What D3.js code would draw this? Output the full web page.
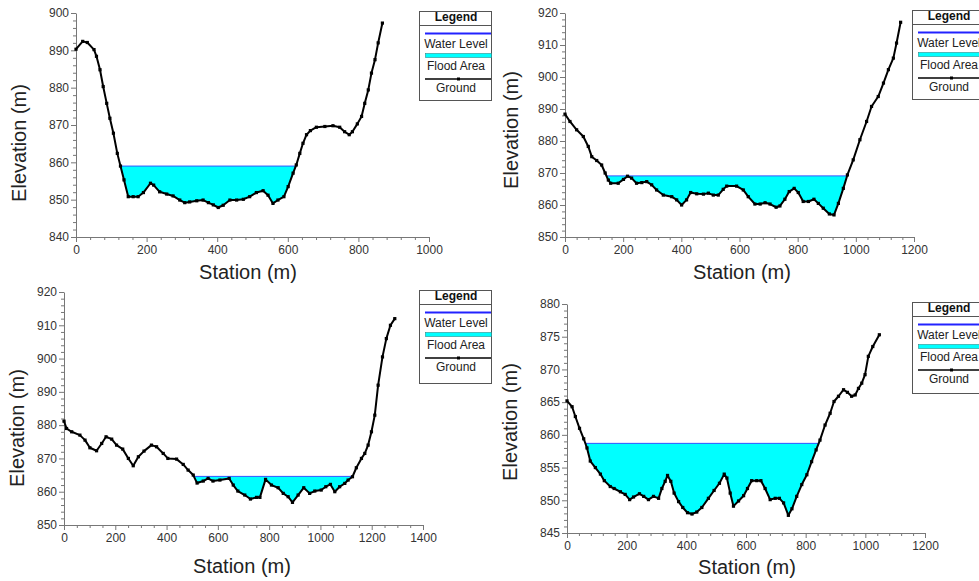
<!DOCTYPE html>
<html><head><meta charset="utf-8">
<script src="https://cdn.jsdelivr.net/npm/d3@7"></script>
<style>
body{margin:0;background:#fff}
svg{display:block}
text{font-family:"Liberation Sans",Arial,sans-serif}
</style>
</head><body>
<svg id="c" width="979" height="581"></svg>
<script>
// ---------- DATA ----------
const station1 = [0,19,32,51,58,68,77,87,96,106,117,126,136,148,162,176,191,211,220,237,257,275,294,308,322,342,360,375,389,403,417,436,455,474,492,511,530,544,558,572,589,601,615,624,634,643,653,664,681,705,728,747,761,774,783,797,809,818,828,837,847,856,868];
const elevation1 = [890.3,892.4,892.1,890.2,888.4,884.8,880.3,875.8,871.8,867.8,862.4,859.0,855.3,850.8,850.8,850.8,851.9,854.4,853.9,852.1,851.5,851.0,849.9,849.2,849.4,849.7,849.9,849.2,848.6,847.9,848.5,849.9,849.9,850.1,850.8,851.9,852.4,851.2,849.0,849.9,850.8,853.5,857.1,859.3,862.4,865.1,867.4,868.5,869.4,869.6,869.8,869.4,868.2,867.4,868.2,870.3,872.3,875.8,879.4,883.9,887.5,892.0,897.3];
const water1 = 859.0;

const station2 = [0,17,40,63,80,92,109,126,138,149,157,183,201,215,229,246,264,281,298,315,338,367,384,401,418,432,453,476,493,510,527,544,556,590,613,630,653,671,688,705,726,739,756,771,788,802,819,837,856,871,888,909,925,940,957,971,991,1014,1037,1054,1077,1095,1112,1129,1140,1154];
const elevation2 = [888.4,886.1,883.5,881.4,878.3,875.1,873.9,872.5,870.0,867.8,866.8,866.8,868.0,869.0,868.4,866.8,867.0,867.3,866.3,864.7,863.1,862.6,861.6,860.0,861.6,863.9,863.5,863.4,863.7,863.1,863.1,864.9,865.9,865.9,864.7,862.6,860.3,860.3,860.7,860.3,859.3,859.7,861.8,864.2,865.2,863.9,861.1,861.1,861.8,860.5,859.0,857.2,856.9,860.5,865.2,869.4,874.1,880.4,886.1,890.8,893.9,898.1,902.3,905.9,910.6,917.1];
const water2 = 869.1;

const station3 = [0,10,30,62,82,101,127,147,164,186,205,229,251,270,290,312,341,361,387,405,439,465,484,504,519,543,562,581,608,644,660,678,705,727,751,764,786,809,835,855,874,891,913,935,958,978,1003,1021,1039,1056,1075,1095,1108,1125,1140,1160,1173,1186,1199,1212,1225,1242,1257,1273,1290];
const elevation3 = [881.2,879.0,878.0,877.0,875.5,873.2,872.3,874.5,876.5,875.8,874.0,872.8,870.0,867.8,870.5,872.2,874.0,873.5,871.5,870.0,869.8,868.2,866.5,865.0,862.6,863.2,864.0,863.2,863.5,864.0,862.0,860.2,859.0,857.8,858.3,858.3,863.7,862.0,861.2,859.5,858.5,856.8,859.0,861.2,859.5,860.2,860.5,861.5,862.2,860.0,861.5,862.5,863.5,864.5,867.2,870.0,871.5,874.0,878.0,883.0,892.0,900.5,906.0,910.0,912.0];
const water3 = 864.6;

const station4 = [0,17,28,42,56,67,78,95,112,125,145,158,179,195,210,223,243,257,273,290,307,318,329,337,348,359,374,388,404,419,435,452,474,493,511,527,536,547,558,575,592,605,619,636,650,664,681,698,712,726,742,754,770,787,804,820,835,848,865,882,895,910,927,940,954,966,977,988,999,1010,1025,1047];
const elevation4 = [865.2,864.3,862.8,861.0,859.4,858.0,856.0,855.0,854.0,853.0,852.1,851.8,851.3,850.9,850.1,850.5,851.0,850.6,850.1,850.6,850.3,851.8,852.9,853.8,852.9,851.1,849.8,848.9,848.1,847.9,848.2,848.9,850.3,851.5,852.6,854.0,853.4,851.1,849.1,849.9,850.7,851.8,853.0,853.0,853.0,851.8,850.1,850.3,850.3,849.6,847.7,848.7,850.6,852.4,853.9,855.9,857.7,859.2,861.5,863.3,865.1,865.9,866.9,866.5,865.9,866.1,867.1,867.9,869.2,872.0,873.5,875.3];
const water4 = 858.7;

const xTicks1 = [0,200,400,600,800,1000];
const yTicks1 = [840,850,860,870,880,890,900];
const xTicks2 = [0,200,400,600,800,1000,1200];
const yTicks2 = [850,860,870,880,890,900,910,920];
const xTicks3 = [0,200,400,600,800,1000,1200,1400];
const yTicks3 = [850,860,870,880,890,900,910,920];
const xTicks4 = [0,200,400,600,800,1000,1200];
const yTicks4 = [845,850,855,860,865,870,875,880];

const legendItems = ["Water Level","Flood Area","Ground"];
const legendTitle = "Legend";
const xTitle = "Station (m)";
const yTitle = "Elevation (m)";

// ---------- LAYOUT ----------
const panels = [
  {st:station1, el:elevation1, water:water1, xt:xTicks1, yt:yTicks1, xMinor:40, yMinor:2,
   L:76, R:429, T:13, B:237, leg:[419,11,72,89], ylab:[19,143], xlab:[248,279]},
  {st:station2, el:elevation2, water:water2, xt:xTicks2, yt:yTicks2, xMinor:40, yMinor:2,
   L:565, R:914, T:13, B:237, leg:[912,10,72,89], ylab:[511,130], xlab:[742,279]},
  {st:station3, el:elevation3, water:water3, xt:xTicks3, yt:yTicks3, xMinor:50, yMinor:2,
   L:64, R:423, T:292, B:525, leg:[419,290,72,93], ylab:[17,428], xlab:[242,573]},
  {st:station4, el:elevation4, water:water4, xt:xTicks4, yt:yTicks4, xMinor:40, yMinor:1,
   L:567, R:925, T:304, B:533, leg:[912,302,72,91], ylab:[510,422], xlab:[747,574]}
];

const svg = d3.select("#c");

panels.forEach(p => {
  const x = d3.scaleLinear().domain(d3.extent(p.xt)).range([p.L, p.R]);
  const y = d3.scaleLinear().domain(d3.extent(p.yt)).range([p.B, p.T]);
  const g = svg.append("g");
  const w = p.water;

  const pts = p.st.map((s,i) => [s, p.el[i]]);
  // flood polygon: ground clipped at water level, with crossing points inserted
  const fl = [];
  const crossings = [];
  for (let i = 0; i < pts.length; i++) {
    const [s, e] = pts[i];
    if (i > 0) {
      const [s0, e0] = pts[i-1];
      const down = e0 >= w && e < w, up = e0 < w && e >= w;
      if (down || up) {
        const t = (w - e0) / (e - e0);
        const sc = s0 + t*(s - s0);
        fl.push([sc, w]);
        crossings.push(sc);
      }
    }
    fl.push([s, Math.min(e, w)]);
  }
  const wl = d3.min(crossings), wr = d3.max(crossings);
  const floodPts = fl.filter(d => d[0] >= wl && d[0] <= wr);

  g.append("path")
    .datum(floodPts)
    .attr("fill", "#00ffff")
    .attr("d", d3.area().x(d => x(d[0])).y0(y(w)).y1(d => y(d[1])));

  g.append("line")
    .attr("x1", x(wl)).attr("x2", x(wr))
    .attr("y1", y(w)).attr("y2", y(w))
    .attr("stroke", "#3355ff").attr("stroke-width", 1);

  // axes
  const xMinorVals = d3.range(p.xt[0], p.xt[p.xt.length-1] + 0.001, p.xMinor).filter(v => !p.xt.includes(v));
  const yMinorVals = d3.range(p.yt[0], p.yt[p.yt.length-1] + 0.001, p.yMinor).filter(v => !p.yt.includes(v));

  g.append("g").attr("transform", `translate(0,${p.B})`)
    .call(d3.axisBottom(x).tickValues(p.xt).tickSize(5).tickSizeOuter(0).tickPadding(3).tickFormat(d3.format("d")));
  g.append("g").attr("transform", `translate(0,${p.B})`)
    .call(d3.axisBottom(x).tickValues(xMinorVals).tickSize(3).tickSizeOuter(0).tickFormat(""))
    .select(".domain").remove();
  g.append("g").attr("transform", `translate(${p.L},0)`)
    .call(d3.axisLeft(y).tickValues(p.yt).tickSize(5).tickSizeOuter(0).tickPadding(2).tickFormat(d3.format("d")));
  g.append("g").attr("transform", `translate(${p.L},0)`)
    .call(d3.axisLeft(y).tickValues(yMinorVals).tickSize(3).tickSizeOuter(0).tickFormat(""))
    .select(".domain").remove();

  g.selectAll(".domain").attr("stroke", "#777");
  g.selectAll(".tick line").attr("stroke", "#777");
  g.selectAll(".tick text").attr("font-size", 12).attr("fill", "#333")
    .attr("font-family", "'Liberation Sans', Arial, sans-serif");

  // ground line
  g.append("path").datum(pts)
    .attr("fill", "none").attr("stroke", "#000").attr("stroke-width", 2)
    .attr("stroke-linejoin", "round")
    .attr("d", d3.line().x(d => x(d[0])).y(d => y(d[1])));
  g.selectAll(".mk").data(pts).enter().append("rect")
    .attr("x", d => x(d[0]) - 1.6).attr("y", d => y(d[1]) - 1.6)
    .attr("width", 3.2).attr("height", 3.2).attr("fill", "#000");

  // axis titles
  g.append("text").attr("x", p.xlab[0]).attr("y", p.xlab[1])
    .attr("text-anchor", "middle").attr("font-size", 20).attr("fill", "#222").text(xTitle);
  g.append("text").attr("transform", `translate(${p.ylab[0]},${p.ylab[1]}) rotate(-90)`)
    .attr("text-anchor", "middle").attr("dominant-baseline", "central")
    .attr("font-size", 20).attr("fill", "#222").text(yTitle);

  // legend
  const [lx, ly, lw, lh] = p.leg;
  const lg = g.append("g").attr("transform", `translate(${lx},${ly})`);
  lg.append("rect").attr("x", 0.5).attr("y", 0.5).attr("width", lw).attr("height", lh)
    .attr("fill", "#fff").attr("stroke", "#555");
  lg.append("line").attr("x1", 0.5).attr("x2", lw + 0.5).attr("y1", 14.5).attr("y2", 14.5).attr("stroke", "#555");
  lg.append("text").attr("x", lw/2 + 1).attr("y", 10).attr("text-anchor", "middle")
    .attr("font-size", 12).attr("font-weight", "bold").attr("fill", "#111").text(legendTitle);
  lg.append("line").attr("x1", 6).attr("x2", lw).attr("y1", 22.5).attr("y2", 22.5)
    .attr("stroke", "#2222ff").attr("stroke-width", 2);
  lg.append("text").attr("x", lw/2 + 1).attr("y", 37).attr("text-anchor", "middle")
    .attr("font-size", 12).attr("fill", "#222").text(legendItems[0]);
  lg.append("rect").attr("x", 6.5).attr("y", 42.5).attr("width", lw - 6).attr("height", 4)
    .attr("fill", "#00ffff").attr("stroke", "#2a8a8a").attr("stroke-width", 0.6);
  lg.append("text").attr("x", lw/2 + 1).attr("y", 59).attr("text-anchor", "middle")
    .attr("font-size", 12).attr("fill", "#222").text(legendItems[1]);
  lg.append("line").attr("x1", 6).attr("x2", lw).attr("y1", 68).attr("y2", 68)
    .attr("stroke", "#000").attr("stroke-width", 1.5);
  lg.append("rect").attr("x", lw/2 + 2).attr("y", 66.5).attr("width", 3).attr("height", 3).attr("fill", "#000");
  lg.append("text").attr("x", lw/2 + 1).attr("y", 81).attr("text-anchor", "middle")
    .attr("font-size", 12).attr("fill", "#222").text(legendItems[2]);
});
</script>
</body></html>
